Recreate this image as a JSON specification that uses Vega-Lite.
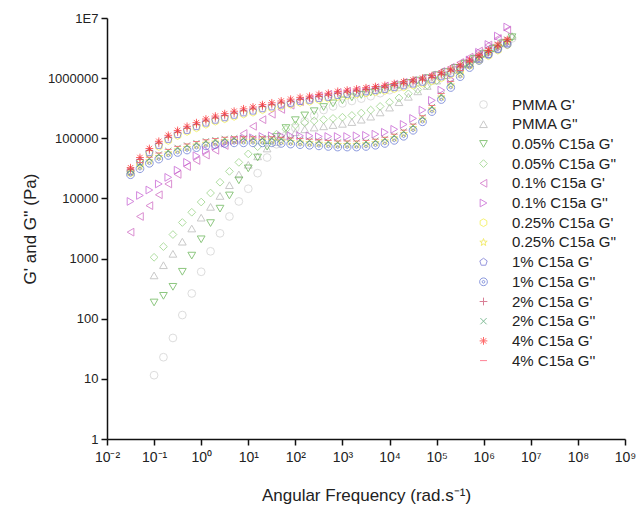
{
  "$schema": "https://vega.github.io/schema/vega-lite/v6.json",
  "width": 518,
  "height": 421,
  "autosize": {"type": "none"},
  "padding": {"left": 107, "top": 18, "right": 11, "bottom": 69},
  "background": "white",
  "config": {
    "view": {"stroke": null},
    "font": "Liberation Sans",
    "axis": {"grid": false, "domainColor": "#111", "domainWidth": 1.5, "tickColor": "#111", "tickWidth": 1.5, "tickSize": 6, "labelColor": "#222", "labelFont": "Liberation Sans", "labelFontSize": 13, "titleFont": "Liberation Sans", "titleFontWeight": "normal", "titleColor": "#222", "titleFontSize": 17}
  },
  "data": {"values": [
    {"s":"PMMA G'","f":0.1,"v":11.5},{"s":"PMMA G'","f":0.158,"v":22.9},{"s":"PMMA G'","f":0.251,"v":47.9},{"s":"PMMA G'","f":0.398,"v":115},{"s":"PMMA G'","f":0.631,"v":263},{"s":"PMMA G'","f":1,"v":603},{"s":"PMMA G'","f":1.58,"v":1320},{"s":"PMMA G'","f":2.51,"v":2630},{"s":"PMMA G'","f":3.98,"v":5010},{"s":"PMMA G'","f":6.31,"v":8910},{"s":"PMMA G'","f":10,"v":14500},{"s":"PMMA G'","f":15.8,"v":26300},{"s":"PMMA G'","f":25.1,"v":47900},{"s":"PMMA G'","f":39.8,"v":79400},{"s":"PMMA G'","f":63.1,"v":112000},{"s":"PMMA G'","f":100,"v":148000},{"s":"PMMA G'","f":158,"v":191000},{"s":"PMMA G'","f":251,"v":240000},{"s":"PMMA G'","f":398,"v":295000},{"s":"PMMA G'","f":631,"v":339000},{"s":"PMMA G'","f":1000,"v":380000},{"s":"PMMA G'","f":1585,"v":417000},{"s":"PMMA G'","f":2512,"v":457000},{"s":"PMMA G'","f":3981,"v":501000},{"s":"PMMA G'","f":6310,"v":562000},{"s":"PMMA G'","f":10000,"v":631000},{"s":"PMMA G'","f":15849,"v":708000},{"s":"PMMA G'","f":25119,"v":794000},{"s":"PMMA G'","f":39811,"v":871000},{"s":"PMMA G'","f":63096,"v":977000},{"s":"PMMA G'","f":100000,"v":1100000},{"s":"PMMA G'","f":158489,"v":1260000},{"s":"PMMA G'","f":251189,"v":1480000},{"s":"PMMA G'","f":398107,"v":1780000},{"s":"PMMA G'","f":630957,"v":2140000},{"s":"PMMA G'","f":1000000,"v":2630000},{"s":"PMMA G'","f":1584893,"v":3160000},{"s":"PMMA G'","f":2511886,"v":3800000},{"s":"PMMA G'","f":3981072,"v":4570000},
    {"s":"PMMA G''","f":0.1,"v":525},{"s":"PMMA G''","f":0.158,"v":776},{"s":"PMMA G''","f":0.251,"v":1200},{"s":"PMMA G''","f":0.398,"v":1910},{"s":"PMMA G''","f":0.631,"v":3160},{"s":"PMMA G''","f":1,"v":4790},{"s":"PMMA G''","f":1.58,"v":7240},{"s":"PMMA G''","f":2.51,"v":11000},{"s":"PMMA G''","f":3.98,"v":16600},{"s":"PMMA G''","f":6.31,"v":25100},{"s":"PMMA G''","f":10,"v":36300},{"s":"PMMA G''","f":15.8,"v":50100},{"s":"PMMA G''","f":25.1,"v":67600},{"s":"PMMA G''","f":39.8,"v":87100},{"s":"PMMA G''","f":63.1,"v":107000},{"s":"PMMA G''","f":100,"v":126000},{"s":"PMMA G''","f":158,"v":141000},{"s":"PMMA G''","f":251,"v":151000},{"s":"PMMA G''","f":398,"v":158000},{"s":"PMMA G''","f":631,"v":166000},{"s":"PMMA G''","f":1000,"v":174000},{"s":"PMMA G''","f":1585,"v":186000},{"s":"PMMA G''","f":2512,"v":204000},{"s":"PMMA G''","f":3981,"v":229000},{"s":"PMMA G''","f":6310,"v":269000},{"s":"PMMA G''","f":10000,"v":324000},{"s":"PMMA G''","f":15849,"v":398000},{"s":"PMMA G''","f":25119,"v":490000},{"s":"PMMA G''","f":39811,"v":603000},{"s":"PMMA G''","f":63096,"v":741000},{"s":"PMMA G''","f":100000,"v":912000},{"s":"PMMA G''","f":158489,"v":1120000},{"s":"PMMA G''","f":251189,"v":1380000},{"s":"PMMA G''","f":398107,"v":1700000},{"s":"PMMA G''","f":630957,"v":2090000},{"s":"PMMA G''","f":1000000,"v":2570000},{"s":"PMMA G''","f":1584893,"v":3160000},{"s":"PMMA G''","f":2511886,"v":3890000},{"s":"PMMA G''","f":3981072,"v":5010000},
    {"s":"0.05% C15a G'","f":0.1,"v":186},{"s":"0.05% C15a G'","f":0.158,"v":240},{"s":"0.05% C15a G'","f":0.251,"v":339},{"s":"0.05% C15a G'","f":0.398,"v":603},{"s":"0.05% C15a G'","f":0.631,"v":1120},{"s":"0.05% C15a G'","f":1,"v":2090},{"s":"0.05% C15a G'","f":1.58,"v":3890},{"s":"0.05% C15a G'","f":2.51,"v":6760},{"s":"0.05% C15a G'","f":3.98,"v":11200},{"s":"0.05% C15a G'","f":6.31,"v":20000},{"s":"0.05% C15a G'","f":10,"v":31600},{"s":"0.05% C15a G'","f":15.8,"v":47900},{"s":"0.05% C15a G'","f":25.1,"v":72400},{"s":"0.05% C15a G'","f":39.8,"v":105000},{"s":"0.05% C15a G'","f":63.1,"v":148000},{"s":"0.05% C15a G'","f":100,"v":200000},{"s":"0.05% C15a G'","f":158,"v":240000},{"s":"0.05% C15a G'","f":251,"v":282000},{"s":"0.05% C15a G'","f":398,"v":331000},{"s":"0.05% C15a G'","f":631,"v":380000},{"s":"0.05% C15a G'","f":1000,"v":427000},{"s":"0.05% C15a G'","f":1585,"v":479000},{"s":"0.05% C15a G'","f":2512,"v":525000},{"s":"0.05% C15a G'","f":3981,"v":575000},{"s":"0.05% C15a G'","f":6310,"v":631000},{"s":"0.05% C15a G'","f":10000,"v":692000},{"s":"0.05% C15a G'","f":15849,"v":759000},{"s":"0.05% C15a G'","f":25119,"v":832000},{"s":"0.05% C15a G'","f":39811,"v":912000},{"s":"0.05% C15a G'","f":63096,"v":1000000},{"s":"0.05% C15a G'","f":100000,"v":1120000},{"s":"0.05% C15a G'","f":158489,"v":1260000},{"s":"0.05% C15a G'","f":251189,"v":1480000},{"s":"0.05% C15a G'","f":398107,"v":1740000},{"s":"0.05% C15a G'","f":630957,"v":2090000},{"s":"0.05% C15a G'","f":1000000,"v":2510000},{"s":"0.05% C15a G'","f":1584893,"v":3090000},{"s":"0.05% C15a G'","f":2511886,"v":3800000},{"s":"0.05% C15a G'","f":3981072,"v":4790000},
    {"s":"0.05% C15a G''","f":0.1,"v":1050},{"s":"0.05% C15a G''","f":0.158,"v":1580},{"s":"0.05% C15a G''","f":0.251,"v":2510},{"s":"0.05% C15a G''","f":0.398,"v":3980},{"s":"0.05% C15a G''","f":0.631,"v":5890},{"s":"0.05% C15a G''","f":1,"v":8710},{"s":"0.05% C15a G''","f":1.58,"v":12300},{"s":"0.05% C15a G''","f":2.51,"v":18600},{"s":"0.05% C15a G''","f":3.98,"v":28200},{"s":"0.05% C15a G''","f":6.31,"v":39800},{"s":"0.05% C15a G''","f":10,"v":55000},{"s":"0.05% C15a G''","f":15.8,"v":72400},{"s":"0.05% C15a G''","f":25.1,"v":93300},{"s":"0.05% C15a G''","f":39.8,"v":117000},{"s":"0.05% C15a G''","f":63.1,"v":141000},{"s":"0.05% C15a G''","f":100,"v":166000},{"s":"0.05% C15a G''","f":158,"v":182000},{"s":"0.05% C15a G''","f":251,"v":195000},{"s":"0.05% C15a G''","f":398,"v":204000},{"s":"0.05% C15a G''","f":631,"v":214000},{"s":"0.05% C15a G''","f":1000,"v":224000},{"s":"0.05% C15a G''","f":1585,"v":240000},{"s":"0.05% C15a G''","f":2512,"v":263000},{"s":"0.05% C15a G''","f":3981,"v":295000},{"s":"0.05% C15a G''","f":6310,"v":339000},{"s":"0.05% C15a G''","f":10000,"v":398000},{"s":"0.05% C15a G''","f":15849,"v":468000},{"s":"0.05% C15a G''","f":25119,"v":550000},{"s":"0.05% C15a G''","f":39811,"v":646000},{"s":"0.05% C15a G''","f":63096,"v":759000},{"s":"0.05% C15a G''","f":100000,"v":912000},{"s":"0.05% C15a G''","f":158489,"v":1120000},{"s":"0.05% C15a G''","f":251189,"v":1380000},{"s":"0.05% C15a G''","f":398107,"v":1700000},{"s":"0.05% C15a G''","f":630957,"v":2090000},{"s":"0.05% C15a G''","f":1000000,"v":2570000},{"s":"0.05% C15a G''","f":1584893,"v":3160000},{"s":"0.05% C15a G''","f":2511886,"v":3890000},{"s":"0.05% C15a G''","f":3981072,"v":4790000},
    {"s":"0.1% C15a G'","f":0.0316,"v":2750},{"s":"0.1% C15a G'","f":0.0501,"v":5010},{"s":"0.1% C15a G'","f":0.0794,"v":7590},{"s":"0.1% C15a G'","f":0.126,"v":11500},{"s":"0.1% C15a G'","f":0.2,"v":17400},{"s":"0.1% C15a G'","f":0.316,"v":25100},{"s":"0.1% C15a G'","f":0.501,"v":33900},{"s":"0.1% C15a G'","f":0.794,"v":42700},{"s":"0.1% C15a G'","f":1.26,"v":52500},{"s":"0.1% C15a G'","f":2,"v":63100},{"s":"0.1% C15a G'","f":3.16,"v":75900},{"s":"0.1% C15a G'","f":5.01,"v":93300},{"s":"0.1% C15a G'","f":7.94,"v":120000},{"s":"0.1% C15a G'","f":12.6,"v":158000},{"s":"0.1% C15a G'","f":20,"v":204000},{"s":"0.1% C15a G'","f":31.6,"v":251000},{"s":"0.1% C15a G'","f":50.1,"v":302000},{"s":"0.1% C15a G'","f":79.4,"v":355000},{"s":"0.1% C15a G'","f":126,"v":407000},{"s":"0.1% C15a G'","f":200,"v":457000},{"s":"0.1% C15a G'","f":316,"v":501000},{"s":"0.1% C15a G'","f":501,"v":537000},{"s":"0.1% C15a G'","f":794,"v":575000},{"s":"0.1% C15a G'","f":1259,"v":603000},{"s":"0.1% C15a G'","f":1995,"v":631000},{"s":"0.1% C15a G'","f":3162,"v":661000},{"s":"0.1% C15a G'","f":5012,"v":692000},{"s":"0.1% C15a G'","f":7943,"v":741000},{"s":"0.1% C15a G'","f":12589,"v":794000},{"s":"0.1% C15a G'","f":19953,"v":851000},{"s":"0.1% C15a G'","f":31623,"v":912000},{"s":"0.1% C15a G'","f":50119,"v":1000000},{"s":"0.1% C15a G'","f":79433,"v":1120000},{"s":"0.1% C15a G'","f":125893,"v":1290000},{"s":"0.1% C15a G'","f":199526,"v":1510000},{"s":"0.1% C15a G'","f":316228,"v":1820000},{"s":"0.1% C15a G'","f":501187,"v":2240000},{"s":"0.1% C15a G'","f":794328,"v":2820000},{"s":"0.1% C15a G'","f":1258925,"v":3550000},{"s":"0.1% C15a G'","f":1995262,"v":4570000},{"s":"0.1% C15a G'","f":3162278,"v":6310000},
    {"s":"0.1% C15a G''","f":0.0316,"v":8910},{"s":"0.1% C15a G''","f":0.0501,"v":11200},{"s":"0.1% C15a G''","f":0.0794,"v":13800},{"s":"0.1% C15a G''","f":0.126,"v":17400},{"s":"0.1% C15a G''","f":0.2,"v":22400},{"s":"0.1% C15a G''","f":0.316,"v":29500},{"s":"0.1% C15a G''","f":0.501,"v":39800},{"s":"0.1% C15a G''","f":0.794,"v":51300},{"s":"0.1% C15a G''","f":1.26,"v":63100},{"s":"0.1% C15a G''","f":2,"v":74100},{"s":"0.1% C15a G''","f":3.16,"v":83200},{"s":"0.1% C15a G''","f":5.01,"v":91200},{"s":"0.1% C15a G''","f":7.94,"v":97700},{"s":"0.1% C15a G''","f":12.6,"v":102000},{"s":"0.1% C15a G''","f":20,"v":107000},{"s":"0.1% C15a G''","f":31.6,"v":110000},{"s":"0.1% C15a G''","f":50.1,"v":110000},{"s":"0.1% C15a G''","f":79.4,"v":110000},{"s":"0.1% C15a G''","f":126,"v":110000},{"s":"0.1% C15a G''","f":200,"v":110000},{"s":"0.1% C15a G''","f":316,"v":107000},{"s":"0.1% C15a G''","f":501,"v":107000},{"s":"0.1% C15a G''","f":794,"v":107000},{"s":"0.1% C15a G''","f":1259,"v":107000},{"s":"0.1% C15a G''","f":1995,"v":110000},{"s":"0.1% C15a G''","f":3162,"v":112000},{"s":"0.1% C15a G''","f":5012,"v":117000},{"s":"0.1% C15a G''","f":7943,"v":126000},{"s":"0.1% C15a G''","f":12589,"v":141000},{"s":"0.1% C15a G''","f":19953,"v":170000},{"s":"0.1% C15a G''","f":31623,"v":214000},{"s":"0.1% C15a G''","f":50119,"v":295000},{"s":"0.1% C15a G''","f":79433,"v":427000},{"s":"0.1% C15a G''","f":125893,"v":631000},{"s":"0.1% C15a G''","f":199526,"v":955000},{"s":"0.1% C15a G''","f":316228,"v":1410000},{"s":"0.1% C15a G''","f":501187,"v":2000000},{"s":"0.1% C15a G''","f":794328,"v":2690000},{"s":"0.1% C15a G''","f":1258925,"v":3630000},{"s":"0.1% C15a G''","f":1995262,"v":5010000},{"s":"0.1% C15a G''","f":3162278,"v":7080000},
    {"s":"0.25% C15a G'","f":0.0316,"v":26600},{"s":"0.25% C15a G'","f":0.0501,"v":39300},{"s":"0.25% C15a G'","f":0.0794,"v":55400},{"s":"0.25% C15a G'","f":0.126,"v":73100},{"s":"0.25% C15a G'","f":0.2,"v":91800},{"s":"0.25% C15a G'","f":0.316,"v":111000},{"s":"0.25% C15a G'","f":0.501,"v":130000},{"s":"0.25% C15a G'","f":0.794,"v":149000},{"s":"0.25% C15a G'","f":1.26,"v":171000},{"s":"0.25% C15a G'","f":2,"v":192000},{"s":"0.25% C15a G'","f":3.16,"v":211000},{"s":"0.25% C15a G'","f":5.01,"v":231000},{"s":"0.25% C15a G'","f":7.94,"v":253000},{"s":"0.25% C15a G'","f":12.6,"v":271000},{"s":"0.25% C15a G'","f":20,"v":298000},{"s":"0.25% C15a G'","f":31.6,"v":319000},{"s":"0.25% C15a G'","f":50.1,"v":342000},{"s":"0.25% C15a G'","f":79.4,"v":367000},{"s":"0.25% C15a G'","f":126,"v":393000},{"s":"0.25% C15a G'","f":200,"v":411000},{"s":"0.25% C15a G'","f":316,"v":440000},{"s":"0.25% C15a G'","f":501,"v":461000},{"s":"0.25% C15a G'","f":794,"v":494000},{"s":"0.25% C15a G'","f":1259,"v":517000},{"s":"0.25% C15a G'","f":1995,"v":542000},{"s":"0.25% C15a G'","f":3162,"v":567000},{"s":"0.25% C15a G'","f":5012,"v":594000},{"s":"0.25% C15a G'","f":7943,"v":622000},{"s":"0.25% C15a G'","f":12589,"v":667000},{"s":"0.25% C15a G'","f":19953,"v":714000},{"s":"0.25% C15a G'","f":31623,"v":765000},{"s":"0.25% C15a G'","f":50119,"v":820000},{"s":"0.25% C15a G'","f":79433,"v":902000},{"s":"0.25% C15a G'","f":125893,"v":1010000},{"s":"0.25% C15a G'","f":199526,"v":1160000},{"s":"0.25% C15a G'","f":316228,"v":1360000},{"s":"0.25% C15a G'","f":501187,"v":1640000},{"s":"0.25% C15a G'","f":794328,"v":1970000},{"s":"0.25% C15a G'","f":1258925,"v":2360000},{"s":"0.25% C15a G'","f":1995262,"v":2910000},{"s":"0.25% C15a G'","f":3162278,"v":3580000},
    {"s":"0.25% C15a G''","f":0.0316,"v":27100},{"s":"0.25% C15a G''","f":0.0501,"v":34200},{"s":"0.25% C15a G''","f":0.0794,"v":42000},{"s":"0.25% C15a G''","f":0.126,"v":49400},{"s":"0.25% C15a G''","f":0.2,"v":56800},{"s":"0.25% C15a G''","f":0.316,"v":63700},{"s":"0.25% C15a G''","f":0.501,"v":69800},{"s":"0.25% C15a G''","f":0.794,"v":76500},{"s":"0.25% C15a G''","f":1.26,"v":82000},{"s":"0.25% C15a G''","f":2,"v":85800},{"s":"0.25% C15a G''","f":3.16,"v":89900},{"s":"0.25% C15a G''","f":5.01,"v":92000},{"s":"0.25% C15a G''","f":7.94,"v":92000},{"s":"0.25% C15a G''","f":12.6,"v":92000},{"s":"0.25% C15a G''","f":20,"v":92000},{"s":"0.25% C15a G''","f":31.6,"v":92000},{"s":"0.25% C15a G''","f":50.1,"v":89900},{"s":"0.25% C15a G''","f":79.4,"v":87900},{"s":"0.25% C15a G''","f":126,"v":85800},{"s":"0.25% C15a G''","f":200,"v":83900},{"s":"0.25% C15a G''","f":316,"v":82000},{"s":"0.25% C15a G''","f":501,"v":80100},{"s":"0.25% C15a G''","f":794,"v":78300},{"s":"0.25% C15a G''","f":1259,"v":78300},{"s":"0.25% C15a G''","f":1995,"v":78300},{"s":"0.25% C15a G''","f":3162,"v":80100},{"s":"0.25% C15a G''","f":5012,"v":83900},{"s":"0.25% C15a G''","f":7943,"v":89900},{"s":"0.25% C15a G''","f":12589,"v":101000},{"s":"0.25% C15a G''","f":19953,"v":119000},{"s":"0.25% C15a G''","f":31623,"v":149000},{"s":"0.25% C15a G''","f":50119,"v":206000},{"s":"0.25% C15a G''","f":79433,"v":305000},{"s":"0.25% C15a G''","f":125893,"v":483000},{"s":"0.25% C15a G''","f":199526,"v":765000},{"s":"0.25% C15a G''","f":316228,"v":1160000},{"s":"0.25% C15a G''","f":501187,"v":1640000},{"s":"0.25% C15a G''","f":794328,"v":2150000},{"s":"0.25% C15a G''","f":1258925,"v":2710000},{"s":"0.25% C15a G''","f":1995262,"v":3340000},{"s":"0.25% C15a G''","f":3162278,"v":4020000},
    {"s":"1% C15a G'","f":0.0316,"v":27900},{"s":"1% C15a G'","f":0.0501,"v":41200},{"s":"1% C15a G'","f":0.0794,"v":58100},{"s":"1% C15a G'","f":0.126,"v":76600},{"s":"1% C15a G'","f":0.2,"v":96300},{"s":"1% C15a G'","f":0.316,"v":116000},{"s":"1% C15a G'","f":0.501,"v":136000},{"s":"1% C15a G'","f":0.794,"v":157000},{"s":"1% C15a G'","f":1.26,"v":180000},{"s":"1% C15a G'","f":2,"v":201000},{"s":"1% C15a G'","f":3.16,"v":221000},{"s":"1% C15a G'","f":5.01,"v":243000},{"s":"1% C15a G'","f":7.94,"v":266000},{"s":"1% C15a G'","f":12.6,"v":285000},{"s":"1% C15a G'","f":20,"v":312000},{"s":"1% C15a G'","f":31.6,"v":335000},{"s":"1% C15a G'","f":50.1,"v":359000},{"s":"1% C15a G'","f":79.4,"v":384000},{"s":"1% C15a G'","f":126,"v":412000},{"s":"1% C15a G'","f":200,"v":431000},{"s":"1% C15a G'","f":316,"v":462000},{"s":"1% C15a G'","f":501,"v":483000},{"s":"1% C15a G'","f":794,"v":519000},{"s":"1% C15a G'","f":1259,"v":543000},{"s":"1% C15a G'","f":1995,"v":568000},{"s":"1% C15a G'","f":3162,"v":595000},{"s":"1% C15a G'","f":5012,"v":623000},{"s":"1% C15a G'","f":7943,"v":653000},{"s":"1% C15a G'","f":12589,"v":699000},{"s":"1% C15a G'","f":19953,"v":749000},{"s":"1% C15a G'","f":31623,"v":802000},{"s":"1% C15a G'","f":50119,"v":860000},{"s":"1% C15a G'","f":79433,"v":946000},{"s":"1% C15a G'","f":125893,"v":1060000},{"s":"1% C15a G'","f":199526,"v":1210000},{"s":"1% C15a G'","f":316228,"v":1430000},{"s":"1% C15a G'","f":501187,"v":1720000},{"s":"1% C15a G'","f":794328,"v":2060000},{"s":"1% C15a G'","f":1258925,"v":2480000},{"s":"1% C15a G'","f":1995262,"v":3050000},{"s":"1% C15a G'","f":3162278,"v":3760000},
    {"s":"1% C15a G''","f":0.0316,"v":24800},{"s":"1% C15a G''","f":0.0501,"v":31200},{"s":"1% C15a G''","f":0.0794,"v":38400},{"s":"1% C15a G''","f":0.126,"v":45100},{"s":"1% C15a G''","f":0.2,"v":51800},{"s":"1% C15a G''","f":0.316,"v":58100},{"s":"1% C15a G''","f":0.501,"v":63800},{"s":"1% C15a G''","f":0.794,"v":69900},{"s":"1% C15a G''","f":1.26,"v":74800},{"s":"1% C15a G''","f":2,"v":78400},{"s":"1% C15a G''","f":3.16,"v":82100},{"s":"1% C15a G''","f":5.01,"v":84000},{"s":"1% C15a G''","f":7.94,"v":84000},{"s":"1% C15a G''","f":12.6,"v":84000},{"s":"1% C15a G''","f":20,"v":84000},{"s":"1% C15a G''","f":31.6,"v":84000},{"s":"1% C15a G''","f":50.1,"v":82100},{"s":"1% C15a G''","f":79.4,"v":80200},{"s":"1% C15a G''","f":126,"v":78400},{"s":"1% C15a G''","f":200,"v":76600},{"s":"1% C15a G''","f":316,"v":74800},{"s":"1% C15a G''","f":501,"v":73200},{"s":"1% C15a G''","f":794,"v":71500},{"s":"1% C15a G''","f":1259,"v":71500},{"s":"1% C15a G''","f":1995,"v":71500},{"s":"1% C15a G''","f":3162,"v":73200},{"s":"1% C15a G''","f":5012,"v":76600},{"s":"1% C15a G''","f":7943,"v":82100},{"s":"1% C15a G''","f":12589,"v":92400},{"s":"1% C15a G''","f":19953,"v":108000},{"s":"1% C15a G''","f":31623,"v":136000},{"s":"1% C15a G''","f":50119,"v":188000},{"s":"1% C15a G''","f":79433,"v":278000},{"s":"1% C15a G''","f":125893,"v":441000},{"s":"1% C15a G''","f":199526,"v":699000},{"s":"1% C15a G''","f":316228,"v":1060000},{"s":"1% C15a G''","f":501187,"v":1500000},{"s":"1% C15a G''","f":794328,"v":1970000},{"s":"1% C15a G''","f":1258925,"v":2480000},{"s":"1% C15a G''","f":1995262,"v":3050000},{"s":"1% C15a G''","f":3162278,"v":3670000},
    {"s":"2% C15a G'","f":0.0316,"v":30100},{"s":"2% C15a G'","f":0.0501,"v":44500},{"s":"2% C15a G'","f":0.0794,"v":62900},{"s":"2% C15a G'","f":0.126,"v":82900},{"s":"2% C15a G'","f":0.2,"v":104000},{"s":"2% C15a G'","f":0.316,"v":126000},{"s":"2% C15a G'","f":0.501,"v":147000},{"s":"2% C15a G'","f":0.794,"v":169000},{"s":"2% C15a G'","f":1.26,"v":194000},{"s":"2% C15a G'","f":2,"v":218000},{"s":"2% C15a G'","f":3.16,"v":239000},{"s":"2% C15a G'","f":5.01,"v":262000},{"s":"2% C15a G'","f":7.94,"v":287000},{"s":"2% C15a G'","f":12.6,"v":308000},{"s":"2% C15a G'","f":20,"v":338000},{"s":"2% C15a G'","f":31.6,"v":362000},{"s":"2% C15a G'","f":50.1,"v":388000},{"s":"2% C15a G'","f":79.4,"v":416000},{"s":"2% C15a G'","f":126,"v":445000},{"s":"2% C15a G'","f":200,"v":466000},{"s":"2% C15a G'","f":316,"v":499000},{"s":"2% C15a G'","f":501,"v":523000},{"s":"2% C15a G'","f":794,"v":561000},{"s":"2% C15a G'","f":1259,"v":587000},{"s":"2% C15a G'","f":1995,"v":615000},{"s":"2% C15a G'","f":3162,"v":644000},{"s":"2% C15a G'","f":5012,"v":673000},{"s":"2% C15a G'","f":7943,"v":706000},{"s":"2% C15a G'","f":12589,"v":756000},{"s":"2% C15a G'","f":19953,"v":810000},{"s":"2% C15a G'","f":31623,"v":868000},{"s":"2% C15a G'","f":50119,"v":930000},{"s":"2% C15a G'","f":79433,"v":1020000},{"s":"2% C15a G'","f":125893,"v":1140000},{"s":"2% C15a G'","f":199526,"v":1310000},{"s":"2% C15a G'","f":316228,"v":1540000},{"s":"2% C15a G'","f":501187,"v":1860000},{"s":"2% C15a G'","f":794328,"v":2230000},{"s":"2% C15a G'","f":1258925,"v":2680000},{"s":"2% C15a G'","f":1995262,"v":3300000},{"s":"2% C15a G'","f":3162278,"v":4060000},
    {"s":"2% C15a G''","f":0.0316,"v":29500},{"s":"2% C15a G''","f":0.0501,"v":37200},{"s":"2% C15a G''","f":0.0794,"v":45700},{"s":"2% C15a G''","f":0.126,"v":53700},{"s":"2% C15a G''","f":0.2,"v":61700},{"s":"2% C15a G''","f":0.316,"v":69200},{"s":"2% C15a G''","f":0.501,"v":75900},{"s":"2% C15a G''","f":0.794,"v":83200},{"s":"2% C15a G''","f":1.26,"v":89100},{"s":"2% C15a G''","f":2,"v":93300},{"s":"2% C15a G''","f":3.16,"v":97700},{"s":"2% C15a G''","f":5.01,"v":100000},{"s":"2% C15a G''","f":7.94,"v":100000},{"s":"2% C15a G''","f":12.6,"v":100000},{"s":"2% C15a G''","f":20,"v":100000},{"s":"2% C15a G''","f":31.6,"v":100000},{"s":"2% C15a G''","f":50.1,"v":97700},{"s":"2% C15a G''","f":79.4,"v":95500},{"s":"2% C15a G''","f":126,"v":93300},{"s":"2% C15a G''","f":200,"v":91200},{"s":"2% C15a G''","f":316,"v":89100},{"s":"2% C15a G''","f":501,"v":87100},{"s":"2% C15a G''","f":794,"v":85100},{"s":"2% C15a G''","f":1259,"v":85100},{"s":"2% C15a G''","f":1995,"v":85100},{"s":"2% C15a G''","f":3162,"v":87100},{"s":"2% C15a G''","f":5012,"v":91200},{"s":"2% C15a G''","f":7943,"v":97700},{"s":"2% C15a G''","f":12589,"v":110000},{"s":"2% C15a G''","f":19953,"v":129000},{"s":"2% C15a G''","f":31623,"v":162000},{"s":"2% C15a G''","f":50119,"v":224000},{"s":"2% C15a G''","f":79433,"v":331000},{"s":"2% C15a G''","f":125893,"v":525000},{"s":"2% C15a G''","f":199526,"v":832000},{"s":"2% C15a G''","f":316228,"v":1260000},{"s":"2% C15a G''","f":501187,"v":1780000},{"s":"2% C15a G''","f":794328,"v":2340000},{"s":"2% C15a G''","f":1258925,"v":2950000},{"s":"2% C15a G''","f":1995262,"v":3630000},{"s":"2% C15a G''","f":3162278,"v":4370000},
    {"s":"4% C15a G'","f":0.0316,"v":32400},{"s":"4% C15a G'","f":0.0501,"v":47900},{"s":"4% C15a G'","f":0.0794,"v":67600},{"s":"4% C15a G'","f":0.126,"v":89100},{"s":"4% C15a G'","f":0.2,"v":112000},{"s":"4% C15a G'","f":0.316,"v":135000},{"s":"4% C15a G'","f":0.501,"v":158000},{"s":"4% C15a G'","f":0.794,"v":182000},{"s":"4% C15a G'","f":1.26,"v":209000},{"s":"4% C15a G'","f":2,"v":234000},{"s":"4% C15a G'","f":3.16,"v":257000},{"s":"4% C15a G'","f":5.01,"v":282000},{"s":"4% C15a G'","f":7.94,"v":309000},{"s":"4% C15a G'","f":12.6,"v":331000},{"s":"4% C15a G'","f":20,"v":363000},{"s":"4% C15a G'","f":31.6,"v":389000},{"s":"4% C15a G'","f":50.1,"v":417000},{"s":"4% C15a G'","f":79.4,"v":447000},{"s":"4% C15a G'","f":126,"v":479000},{"s":"4% C15a G'","f":200,"v":501000},{"s":"4% C15a G'","f":316,"v":537000},{"s":"4% C15a G'","f":501,"v":562000},{"s":"4% C15a G'","f":794,"v":603000},{"s":"4% C15a G'","f":1259,"v":631000},{"s":"4% C15a G'","f":1995,"v":661000},{"s":"4% C15a G'","f":3162,"v":692000},{"s":"4% C15a G'","f":5012,"v":724000},{"s":"4% C15a G'","f":7943,"v":759000},{"s":"4% C15a G'","f":12589,"v":813000},{"s":"4% C15a G'","f":19953,"v":871000},{"s":"4% C15a G'","f":31623,"v":933000},{"s":"4% C15a G'","f":50119,"v":1000000},{"s":"4% C15a G'","f":79433,"v":1100000},{"s":"4% C15a G'","f":125893,"v":1230000},{"s":"4% C15a G'","f":199526,"v":1410000},{"s":"4% C15a G'","f":316228,"v":1660000},{"s":"4% C15a G'","f":501187,"v":2000000},{"s":"4% C15a G'","f":794328,"v":2400000},{"s":"4% C15a G'","f":1258925,"v":2880000},{"s":"4% C15a G'","f":1995262,"v":3550000},{"s":"4% C15a G'","f":3162278,"v":4370000},
    {"s":"4% C15a G''","f":0.0316,"v":31300},{"s":"4% C15a G''","f":0.0501,"v":39400},{"s":"4% C15a G''","f":0.0794,"v":48400},{"s":"4% C15a G''","f":0.126,"v":56900},{"s":"4% C15a G''","f":0.2,"v":65400},{"s":"4% C15a G''","f":0.316,"v":73400},{"s":"4% C15a G''","f":0.501,"v":80500},{"s":"4% C15a G''","f":0.794,"v":88200},{"s":"4% C15a G''","f":1.26,"v":94400},{"s":"4% C15a G''","f":2,"v":98900},{"s":"4% C15a G''","f":3.16,"v":104000},{"s":"4% C15a G''","f":5.01,"v":106000},{"s":"4% C15a G''","f":7.94,"v":106000},{"s":"4% C15a G''","f":12.6,"v":106000},{"s":"4% C15a G''","f":20,"v":106000},{"s":"4% C15a G''","f":31.6,"v":106000},{"s":"4% C15a G''","f":50.1,"v":104000},{"s":"4% C15a G''","f":79.4,"v":101000},{"s":"4% C15a G''","f":126,"v":98900},{"s":"4% C15a G''","f":200,"v":96700},{"s":"4% C15a G''","f":316,"v":94400},{"s":"4% C15a G''","f":501,"v":92300},{"s":"4% C15a G''","f":794,"v":90200},{"s":"4% C15a G''","f":1259,"v":90200},{"s":"4% C15a G''","f":1995,"v":90200},{"s":"4% C15a G''","f":3162,"v":92300},{"s":"4% C15a G''","f":5012,"v":96700},{"s":"4% C15a G''","f":7943,"v":104000},{"s":"4% C15a G''","f":12589,"v":117000},{"s":"4% C15a G''","f":19953,"v":137000},{"s":"4% C15a G''","f":31623,"v":172000},{"s":"4% C15a G''","f":50119,"v":237000},{"s":"4% C15a G''","f":79433,"v":351000},{"s":"4% C15a G''","f":125893,"v":557000},{"s":"4% C15a G''","f":199526,"v":882000},{"s":"4% C15a G''","f":316228,"v":1340000},{"s":"4% C15a G''","f":501187,"v":1890000},{"s":"4% C15a G''","f":794328,"v":2480000},{"s":"4% C15a G''","f":1258925,"v":3130000},{"s":"4% C15a G''","f":1995262,"v":3850000},{"s":"4% C15a G''","f":3162278,"v":4630000}
  ]},
  "mark": {"type": "point", "filled": false, "size": 60, "strokeWidth": 1, "clip": true},
  "encoding": {
    "x": {"field": "f", "type": "quantitative",
      "scale": {"type": "log", "domain": [0.01, 1000000000], "nice": false},
      "axis": {"title": "Angular Frequency (rad.s⁻¹)", "values": [0.01, 0.1, 1, 10, 100, 1000, 10000, 100000, 1000000, 10000000, 100000000, 1000000000],
        "labelExpr": "['10⁻²','10⁻¹','10⁰','10¹','10²','10³','10⁴','10⁵','10⁶','10⁷','10⁸','10⁹'][round(log(datum.value)/LN10)+2]",
        "labelPadding": 5, "titlePadding": 23, "labelFontSize": 14, "labelFlush": false}},
    "y": {"field": "v", "type": "quantitative",
      "scale": {"type": "log", "domain": [1, 10000000], "nice": false},
      "axis": {"title": "G' and G'' (Pa)", "values": [1, 10, 100, 1000, 10000, 100000, 1000000, 10000000],
        "labelExpr": "datum.value >= 10000000 ? '1E7' : format(datum.value, 'd')",
        "labelPadding": 3, "titlePadding": 8, "labelFlush": false}},
    "color": {"field": "s", "type": "nominal",
      "scale": {"domain": ["PMMA G'", "PMMA G''", "0.05% C15a G'", "0.05% C15a G''", "0.1% C15a G'", "0.1% C15a G''", "0.25% C15a G'", "0.25% C15a G''", "1% C15a G'", "1% C15a G''", "2% C15a G'", "2% C15a G''", "4% C15a G'", "4% C15a G''"],
        "range": ["#cfcfcf", "#b3b3b3", "#5db04a", "#8fd07a", "#cc5fbf", "#c255d0", "#f2ee3a", "#efe53a", "#6a6ad0", "#5a6ed0", "#c94a6a", "#4aa06a", "#ff2a2a", "#ff4f6a"]},
      "legend": {"title": null, "orient": "none", "legendX": 369, "legendY": 79, "labelFontSize": 15, "labelColor": "#222", "labelFont": "Liberation Sans", "rowPadding": 3.7, "labelOffset": 21, "symbolSize": 60, "symbolStrokeWidth": 1, "padding": 0}},
    "shape": {"field": "s", "type": "nominal",
      "scale": {"domain": ["PMMA G'", "PMMA G''", "0.05% C15a G'", "0.05% C15a G''", "0.1% C15a G'", "0.1% C15a G''", "0.25% C15a G'", "0.25% C15a G''", "1% C15a G'", "1% C15a G''", "2% C15a G'", "2% C15a G''", "4% C15a G'", "4% C15a G''"],
        "range": ["circle", "triangle-up", "triangle-down", "M0,-1L1,0L0,1L-1,0Z", "triangle-left", "triangle-right", "M0,-1L0.866,-0.5L0.866,0.5L0,1L-0.866,0.5L-0.866,-0.5Z", "M0,-1L0.235,-0.324L0.951,-0.309L0.38,0.124L0.588,0.809L0,0.4L-0.588,0.809L-0.38,0.124L-0.951,-0.309L-0.235,-0.324Z", "M0,-1L0.951,-0.309L0.588,0.809L-0.588,0.809L-0.951,-0.309Z", "M1,0A1,1 0 1,1 -1,0A1,1 0 1,1 1,0M0.35,0A0.35,0.35 0 1,1 -0.35,0A0.35,0.35 0 1,1 0.35,0", "M-1,0L1,0M0,-1L0,1", "M-0.8,-0.8L0.8,0.8M-0.8,0.8L0.8,-0.8", "M-1,0L1,0M0,-1L0,1M-0.7,-0.7L0.7,0.7M-0.7,0.7L0.7,-0.7", "M-0.9,0L0.9,0"]},
      "legend": null}
  }
}
